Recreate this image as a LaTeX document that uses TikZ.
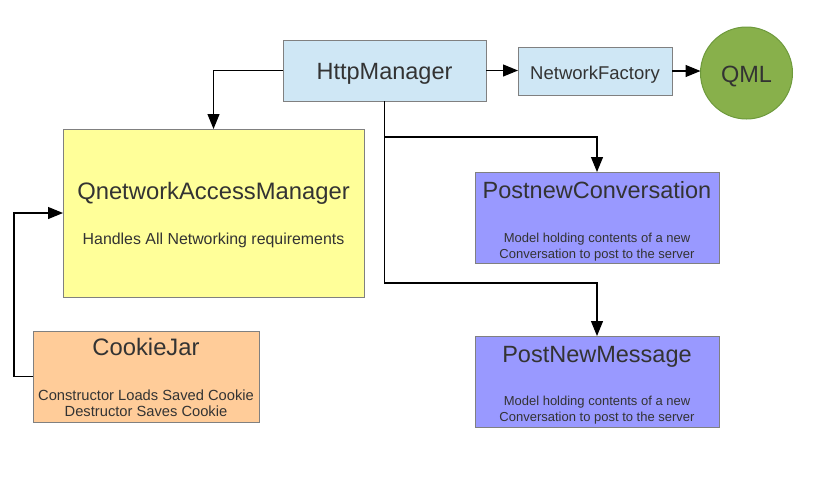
\documentclass[tikz,border=0pt]{standalone}
\usepackage{fontspec}
\setmainfont{Liberation Sans}
\usetikzlibrary{arrows.meta}
\definecolor{hmfill}{HTML}{CFE7F5}
\definecolor{qnfill}{HTML}{FFFF99}
\definecolor{cjfill}{HTML}{FFCC99}
\definecolor{pfill}{HTML}{9999FF}
\definecolor{qmlfill}{HTML}{88B04B}
\definecolor{qmlline}{HTML}{6E9A3C}
\definecolor{boxline}{HTML}{808080}
\definecolor{txt}{HTML}{333333}
\tikzset{
  box/.style={draw=boxline, line width=1pt, rectangle, inner sep=0pt, outer sep=0pt, anchor=north west},
  lbl/.style={anchor=base, inner sep=0pt, text=txt, font=#1},
  arr/.style={line width=1.2pt, -{Triangle[length=15pt,width=12pt]}},
}
\begin{document}
\begin{tikzpicture}[x=1pt,y=-1pt]
\fill[white] (0,0) rectangle (816,480);
\useasboundingbox (0,0) rectangle (816,480);

\node[box, fill=hmfill, minimum width=203pt, minimum height=61pt] (hm) at (283,40) {};
\node[lbl={\fontsize{23.5}{26}\selectfont}] (hmt) at (384.5,79) {HttpManager};

\node[box, fill=hmfill, minimum width=154pt, minimum height=48pt] (nf) at (518,47) {};
\node[lbl={\fontsize{18.5}{21}\selectfont}] (nft) at (595,79) {NetworkFactory};

\node[circle, draw=qmlline, line width=1pt, fill=qmlfill, minimum size=92pt, inner sep=0pt, outer sep=0pt] (qml) at (746.5,73) {};
\node[lbl={\fontsize{23.5}{26}\selectfont}] (qmlt) at (746.5,82) {QML};

\node[box, fill=qnfill, minimum width=301pt, minimum height=168pt] (qn) at (63,129) {};
\node[lbl={\fontsize{23.8}{26}\selectfont}] (qnt) at (213.5,199) {QnetworkAccessManager};
\node[lbl={\fontsize{15.9}{18}\selectfont}] (qns) at (213.5,244) {Handles All Networking requirements};

\node[box, fill=cjfill, minimum width=226pt, minimum height=91pt] (cj) at (33,331) {};
\node[lbl={\fontsize{23.8}{26}\selectfont}] (cjt) at (146,355) {CookieJar};
\node[lbl={\fontsize{14.7}{17}\selectfont}] (cjs1) at (146,400) {Constructor Loads Saved Cookie};
\node[lbl={\fontsize{14.7}{17}\selectfont}] (cjs2) at (146,416) {Destructor Saves Cookie};

\node[box, fill=pfill, minimum width=244pt, minimum height=91pt] (pnc) at (475,172) {};
\node[lbl={\fontsize{23.5}{26}\selectfont}] (pnct) at (597,198) {PostnewConversation};
\node[lbl={\fontsize{13}{15}\selectfont}] (pncs1) at (597,242) {Model holding contents of a new};
\node[lbl={\fontsize{13}{15}\selectfont}] (pncs2) at (597,258) {Conversation to post to the server};

\node[box, fill=pfill, minimum width=244pt, minimum height=91pt] (pnm) at (475,336) {};
\node[lbl={\fontsize{23.5}{26}\selectfont}] (pnmt) at (597,362) {PostNewMessage};
\node[lbl={\fontsize{13}{15}\selectfont}] (pnms1) at (597,405) {Model holding contents of a new};
\node[lbl={\fontsize{13}{15}\selectfont}] (pnms2) at (597,421) {Conversation to post to the server};

\coordinate (j1) at (0,137);
\coordinate (j2) at (0,283);

\draw[arr] (hm.west) -| (qn.north);
\draw[arr] (hm.east) -- (hm.east -| nf.west);
\draw[arr] (nf.east) -- (nf.east -| qml.west);
\draw[arr] (cj.west) -- ++(-19,0) |- (qn.west);
\draw[arr] (hm.south) |- (j1 -| pnc.north) -- (pnc.north);
\draw[arr] (hm.south) |- (j2 -| pnm.north) -- (pnm.north);
\end{tikzpicture}
\end{document}
